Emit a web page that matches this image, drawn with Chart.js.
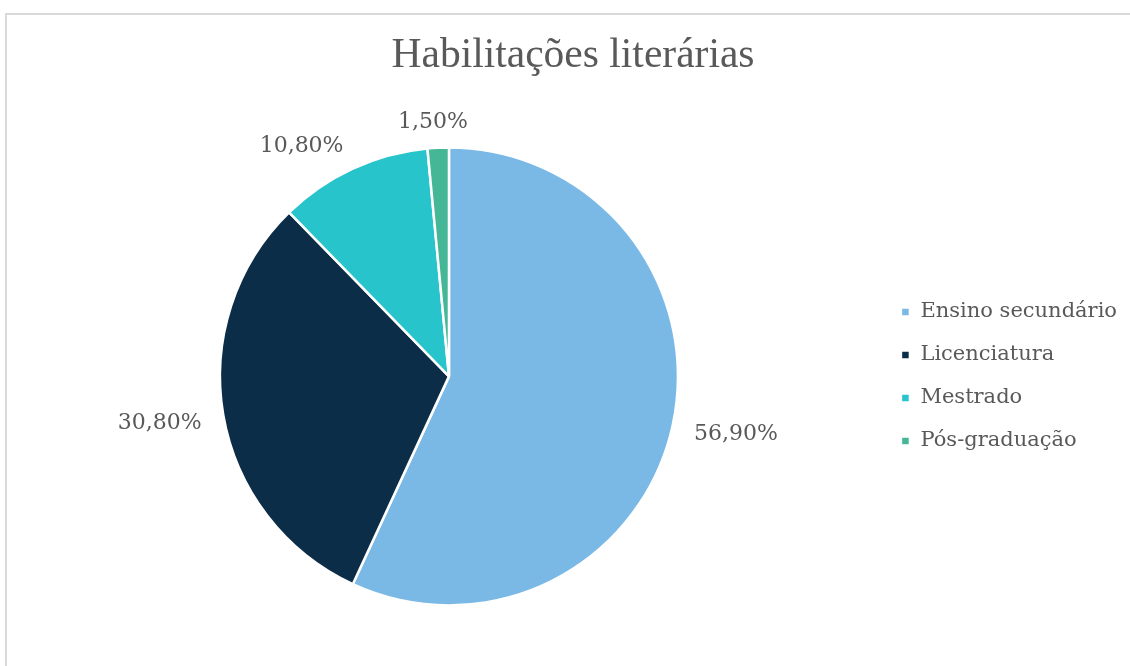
<!DOCTYPE html>
<html>
<head>
<meta charset="utf-8">
<script src="https://cdn.jsdelivr.net/npm/chart.js@4"></script>
<style>
  html, body { margin: 0; padding: 0; background: #fff; overflow: hidden; }
  body { width: 1130px; height: 666px; position: relative; }
  .frame {
    position: absolute; left: 5px; top: 13px; width: 1300px; height: 800px;
    border: 2px solid #d9d9d9; box-sizing: border-box;
  }
  .wrap { position: absolute; left: 0; top: 0; width: 1130px; height: 666px; }
</style>
</head>
<body>
<div class="frame"></div>
<div class="wrap"><canvas id="pieChart" width="1130" height="666"></canvas></div>
<script>
// Habilitações literárias
var labels = ['Ensino secundário', 'Licenciatura', 'Mestrado', 'Pós-graduação'];
var values = [56.9, 30.8, 10.8, 1.5];
var colors = ['#7ab9e6', '#0c2d48', '#27c4cc', '#45b797'];

var textColor = '#595959';

// percentage labels just outside each slice
var outsideLabels = {
    id: 'outsideLabels',
    afterDatasetsDraw: function (chart) {
        var ctx = chart.ctx;
        var meta = chart.getDatasetMeta(0);
        ctx.save();
        ctx.font = '22px "DejaVu Serif"';
        ctx.fillStyle = textColor;
        ctx.textAlign = 'center';
        ctx.textBaseline = 'middle';
        meta.data.forEach(function (arc, i) {
            var p = arc.getProps(['x', 'y', 'startAngle', 'endAngle', 'outerRadius'], true);
            var mid = (p.startAngle + p.endAngle) / 2;
            var cx = Math.cos(mid), cy = Math.sin(mid);
            var text = values[i].toFixed(2).replace('.', ',') + '%';
            var w = ctx.measureText(text).width;
            var r = p.outerRadius + 22;
            var shift = Math.max(-1, Math.min(1, cx * 2.5));
            var x = p.x + cx * r + shift * w / 2;
            var y = p.y + cy * r + cy * 6 + 3;
            ctx.fillText(text, x, y);
        });
        ctx.restore();
    }
};

var ctxPie = document.getElementById('pieChart').getContext('2d');
var pieChart = new Chart(ctxPie, {
    type: 'pie',
    data: {
        labels: labels,
        datasets: [{
            data: values,
            backgroundColor: colors,
            borderColor: '#ffffff',
            borderWidth: 2.5,
            hoverOffset: 0
        }]
    },
    options: {
        responsive: false,
        animation: false,
        radius: 229,
        layout: {
            padding: { left: 19, right: 3, top: 0, bottom: 13 }
        },
        plugins: {
            title: {
                display: true,
                text: 'Habilitações literárias',
                color: textColor,
                font: { family: '"Liberation Serif"', size: 41.5, weight: 'normal' },
                padding: { top: 31, bottom: 19 }
            },
            legend: {
                position: 'right',
                fullSize: false,
                labels: {
                    color: textColor,
                    font: { family: '"DejaVu Serif"', size: 21 },
                    boxWidth: 9,
                    boxHeight: 9,
                    padding: 22
                }
            },
            tooltip: { enabled: false }
        }
    },
    plugins: [outsideLabels]
});
</script>
</body>
</html>
